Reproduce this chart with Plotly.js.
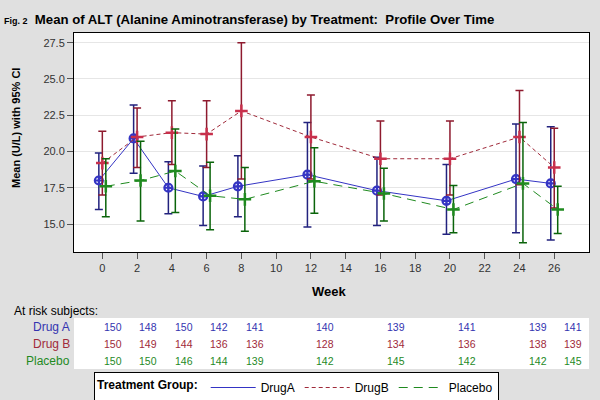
<!DOCTYPE html>
<html>
<head>
<meta charset="utf-8">
<script src="https://cdn.plot.ly/plotly-3.0.1.min.js"></script>
<style>html,body{margin:0;padding:0;background:#e0e0e0;}#chart{width:600px;height:400px;}</style>
</head>
<body>
<div id="chart"></div>
<script>
// ---- data ----
var weeks = [0, 2, 4, 6, 8, 12, 16, 20, 24, 26];
var xTicks = [0, 2, 4, 6, 8, 10, 12, 14, 16, 18, 20, 22, 24, 26];
var yTicks = [15.0, 17.5, 20.0, 22.5, 25.0, 27.5];

var drugAMean  = [18.0, 20.9, 17.5, 16.9, 17.6, 18.4, 17.3, 16.6, 18.1, 17.8];
var drugAUpper = [19.9, 23.2, 19.3, 19.0, 19.7, 22.0, 19.6, 19.1, 21.9, 21.7];
var drugALower = [16.0, 18.5, 15.7, 14.9, 15.5, 14.8, 14.9, 14.3, 14.4, 13.9];

var drugBMean  = [19.2, 21.0, 21.3, 21.2, 22.8, 21.0, 19.5, 19.5, 21.0, 18.9];
var drugBUpper = [21.4, 23.0, 23.5, 23.5, 27.5, 23.9, 22.1, 22.1, 24.2, 21.6];
var drugBLower = [17.0, 18.9, 19.1, 18.9, 18.1, 18.1, 17.0, 17.0, 17.7, 16.1];

var placeboMean  = [17.6, 18.0, 18.65, 16.95, 16.7, 17.95, 17.1, 16.0, 17.8, 16.0];
var placeboUpper = [19.5, 20.7, 21.55, 19.25, 18.9, 20.25, 18.85, 17.65, 22.0, 17.6];
var placeboLower = [15.5, 15.2, 15.8, 14.6, 14.5, 15.75, 15.2, 14.4, 13.7, 14.35];

var atRiskLabels = ["Drug A", "Drug B", "Placebo"];
var atRiskA = [150, 148, 150, 142, 141, 140, 139, 141, 139, 141];
var atRiskB = [150, 149, 144, 136, 136, 128, 134, 136, 138, 139];
var atRiskP = [150, 150, 146, 144, 139, 142, 145, 142, 142, 145];

var legendNames = ["DrugA", "DrugB", "Placebo"];

// ---- styling ----
var cA = "#3434c4", cAerr = "#22227e";
var cB = "#c8304c", cBerr = "#8e1a2e", cBline = "#a02a3a";
var cP = "#1f8a1f", cPerr = "#0a640a";
var FONT = "Liberation Sans, Arial, sans-serif";

var L = 74, R = 589, T = 33, B = 252;
function px(x) { return (x - L) / (R - L); }
function py(y) { return (B - y) / (B - T); }
function shifted(arr, d) { return arr.map(function (v) { return v + d; }); }
function up(u, m) { return u.map(function (v, i) { return v - m[i]; }); }
function dn(l, m) { return l.map(function (v, i) { return m[i] - v; }); }

function series(x, mean, upper, lower, lineColor, dash, errColor, marker) {
  return {
    x: x, y: mean, type: "scatter", mode: "lines+markers", showlegend: false,
    line: {color: lineColor, width: 1, dash: dash},
    marker: marker,
    error_y: {type: "data", symmetric: false, array: up(upper, mean), arrayminus: dn(lower, mean),
              color: errColor, thickness: 1.5, width: 4}
  };
}

var traces = [
  series(shifted(weeks, -0.2), drugAMean, drugAUpper, drugALower, cA, "solid", cAerr,
         {symbol: "circle-cross-open", size: 8, color: cA, line: {width: 2.2, color: cA}}),
  series(weeks, drugBMean, drugBUpper, drugBLower, cBline, "4px,3px", cBerr,
         {symbol: "cross-thin-open", size: 9, color: cB, line: {width: 2.5, color: cB}}),
  series(shifted(weeks, 0.2), placeboMean, placeboUpper, placeboLower, cP, "9px,6px", cPerr,
         {symbol: "cross-thin-open", size: 9, color: cP, line: {width: 2.5, color: cP}})
];
// legend-only line entries
var legColors = [cA, cBline, cP], legDash = ["solid", "4px,3px", "9px,6px"];
legendNames.forEach(function (n, i) {
  traces.push({x: [null], y: [null], type: "scatter", mode: "lines", name: n,
               line: {color: legColors[i], width: 1, dash: legDash[i]}, showlegend: true});
});

// ---- at-risk table ----
var annotations = [];
var rows = [atRiskA, atRiskB, atRiskP], rowColors = ["#3434b0", "#a02a3a", "#1f8a1f"];
var rowY = [326.5, 343.5, 360.5];
annotations.push({xref: "paper", yref: "paper", x: px(12), y: py(311), xanchor: "left", yanchor: "middle",
                  text: "At risk subjects:", showarrow: false, font: {family: FONT, size: 12, color: "#000"}});
rows.forEach(function (r, k) {
  annotations.push({xref: "paper", yref: "paper", x: px(72), y: py(rowY[k]), xanchor: "right", yanchor: "middle",
                    text: atRiskLabels[k], showarrow: false, font: {family: FONT, size: 12, color: rowColors[k]}});
  r.forEach(function (n, i) {
    annotations.push({xref: "x2", yref: "paper", x: weeks[i], y: py(rowY[k]), xanchor: "center", yanchor: "middle",
                      text: String(n), showarrow: false, font: {family: FONT, size: 10.5, color: rowColors[k]}});
  });
});
annotations.push({xref: "paper", yref: "paper", x: px(16), y: py(128), textangle: -90, xanchor: "center", yanchor: "middle",
                  text: "<b>Mean (U/L) with 95% CI</b>", showarrow: false, font: {family: FONT, size: 11, color: "#000"}});
annotations.push({xref: "paper", yref: "paper", x: px(329), y: py(291), xanchor: "center", yanchor: "middle",
                  text: "<b>Week</b>", showarrow: false, font: {family: FONT, size: 13, color: "#000"}});

var layout = {
  width: 600, height: 400,
  paper_bgcolor: "#e0e0e0", plot_bgcolor: "#ffffff",
  margin: {l: L, r: 600 - R, t: T, b: 400 - B, autoexpand: false},
  font: {family: FONT, color: "#000"},
  title: {text: "<b><span style='font-size:9px'>Fig. 2</span>\u00a0 Mean of ALT (Alanine Aminotransferase) by Treatment:\u00a0 Profile Over Time</b>",
          xref: "container", yref: "container", x: 4 / 600, xanchor: "left", y: 1 - 19 / 400, yanchor: "middle",
          font: {family: FONT, size: 13.2, color: "#000"}},
  xaxis: {range: [-1.63, 28.0], tickvals: xTicks, ticktext: xTicks.map(String), ticks: "outside", ticklen: 6,
          tickcolor: "#555", tickfont: {family: FONT, size: 11, color: "#333"}, showgrid: false, zeroline: false,
          showline: true, linecolor: "#000", linewidth: 1, mirror: true},
  xaxis2: {range: [-2.2, 26.9], overlaying: "x", visible: false, showgrid: false, zeroline: false},
  yaxis: {range: [13.07, 28.17], tickvals: yTicks, ticktext: yTicks.map(function (v) { return v.toFixed(1); }),
          ticks: "outside", ticklen: 6, tickcolor: "#555", tickfont: {family: FONT, size: 11, color: "#333"},
          showgrid: true, gridcolor: "#e6e6e6", gridwidth: 1, zeroline: false,
          showline: true, linecolor: "#000", linewidth: 1, mirror: true},
  showlegend: true,
  legend: {orientation: "h", x: px(94), y: py(372), xanchor: "left", yanchor: "top",
           bgcolor: "#ffffff", bordercolor: "#000", borderwidth: 1,
           font: {family: FONT, size: 12, color: "#000"},
           title: {text: "<b>Treatment Group:</b>", side: "left", font: {family: FONT, size: 12, color: "#000"}},
           itemwidth: 45, tracegroupgap: 0},
  shapes: [{type: "rect", xref: "paper", yref: "paper", x0: 0, x1: 1, y0: py(369), y1: py(318),
            fillcolor: "#ffffff", line: {width: 0}, layer: "below"}],
  annotations: annotations
};

Plotly.newPlot("chart", traces, layout, {staticPlot: true, displayModeBar: false});
</script>
</body>
</html>
